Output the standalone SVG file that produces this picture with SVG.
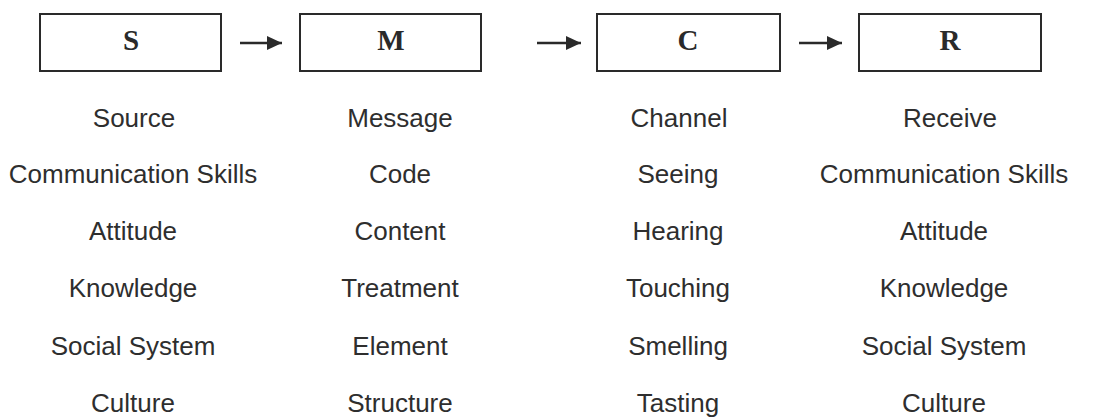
<svg xmlns="http://www.w3.org/2000/svg" width="1114" height="419" viewBox="0 0 1114 419">
<style>
.box{fill:#fff;stroke:#2a2a2a;stroke-width:2}
.let{font-family:"Liberation Serif",serif;font-weight:bold;font-size:29px;fill:#2a2a2a;text-anchor:middle}
.lbl{font-family:"Liberation Sans",Arial,sans-serif;font-size:26px;fill:#2e2e2e;text-anchor:middle}
.con{stroke:#2a2a2a;stroke-width:2.5;fill:none}
</style>
<defs>
<marker id="ah" markerWidth="16" markerHeight="15" refX="15" refY="7" orient="auto" markerUnits="userSpaceOnUse">
<path d="M0,0 L15,7 L0,14 Z" fill="#2a2a2a"/>
</marker>
</defs>
<rect width="1114" height="419" fill="#fff"/>
<g id="node-S">
<rect class="box" x="40" y="14" width="181" height="57"/>
<text class="let" x="131" y="50">S</text>
</g>
<g id="node-M">
<rect class="box" x="300" y="14" width="181" height="57"/>
<text class="let" x="391" y="50">M</text>
</g>
<g id="node-C">
<rect class="box" x="597" y="14" width="183" height="57"/>
<text class="let" x="688" y="50">C</text>
</g>
<g id="node-R">
<rect class="box" x="859" y="14" width="182" height="57"/>
<text class="let" x="950" y="50">R</text>
</g>
<g id="connectors">
<line class="con" x1="240" y1="43" x2="282" y2="43" marker-end="url(#ah)"/>
<line class="con" x1="537" y1="43" x2="581" y2="43" marker-end="url(#ah)"/>
<line class="con" x1="799" y1="43" x2="842" y2="43" marker-end="url(#ah)"/>
</g>
<g id="col-source">
<text class="lbl" x="134" y="127">Source</text>
<text class="lbl" x="133" y="183">Communication Skills</text>
<text class="lbl" x="133" y="240">Attitude</text>
<text class="lbl" x="133" y="297">Knowledge</text>
<text class="lbl" x="133" y="355">Social System</text>
<text class="lbl" x="133" y="412">Culture</text>
</g>
<g id="col-message">
<text class="lbl" x="400" y="127">Message</text>
<text class="lbl" x="400" y="183">Code</text>
<text class="lbl" x="400" y="240">Content</text>
<text class="lbl" x="400" y="297">Treatment</text>
<text class="lbl" x="400" y="355">Element</text>
<text class="lbl" x="400" y="412">Structure</text>
</g>
<g id="col-channel">
<text class="lbl" x="679" y="127">Channel</text>
<text class="lbl" x="678" y="183">Seeing</text>
<text class="lbl" x="678" y="240">Hearing</text>
<text class="lbl" x="678" y="297">Touching</text>
<text class="lbl" x="678" y="355">Smelling</text>
<text class="lbl" x="678" y="412">Tasting</text>
</g>
<g id="col-receive">
<text class="lbl" x="950" y="127">Receive</text>
<text class="lbl" x="944" y="183">Communication Skills</text>
<text class="lbl" x="944" y="240">Attitude</text>
<text class="lbl" x="944" y="297">Knowledge</text>
<text class="lbl" x="944" y="355">Social System</text>
<text class="lbl" x="944" y="412">Culture</text>
</g>
</svg>
